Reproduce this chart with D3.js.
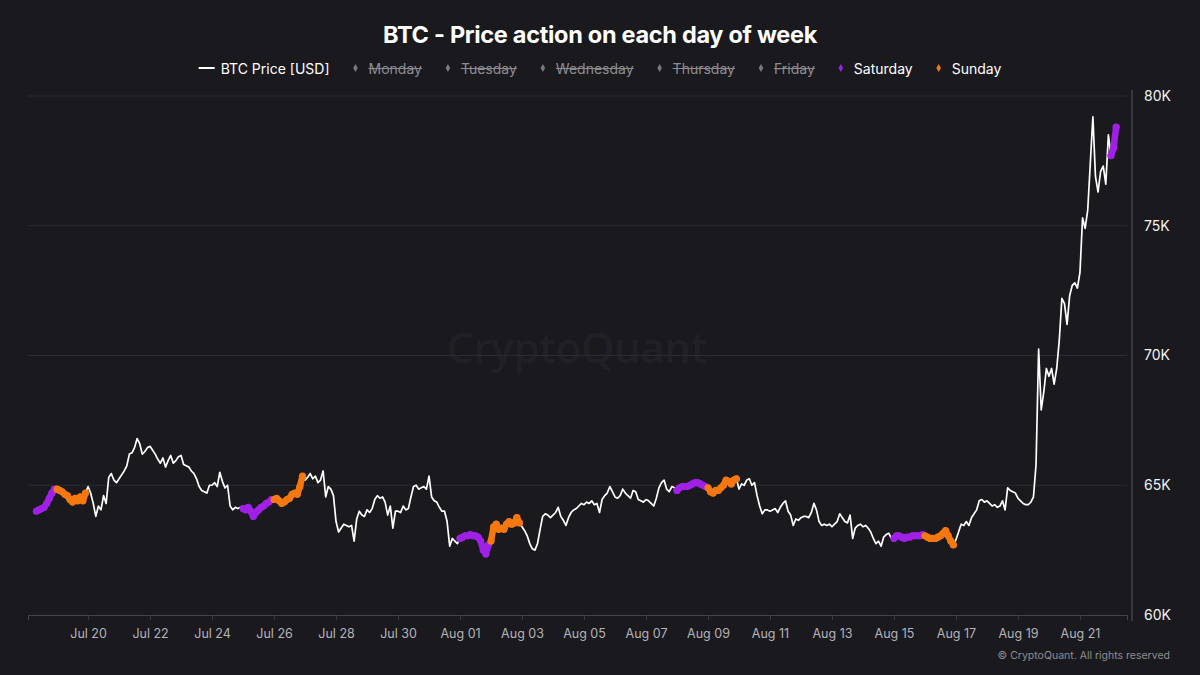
<!DOCTYPE html>
<html>
<head>
<meta charset="utf-8">
<script src="https://cdn.jsdelivr.net/npm/d3@7"></script>
<style>
  html, body { margin: 0; padding: 0; background: #1a191e; }
  svg { display: block; font-family: Inter, "Noto Sans", sans-serif; }
</style>
</head>
<body>
<svg id="chart" width="1200" height="675"></svg>
<script>
// ---------- data ----------
const chartTitle = "BTC - Price action on each day of week";
const seriesName = "BTC Price [USD]";
const dayNames = ["Monday", "Tuesday", "Wednesday", "Thursday", "Friday", "Saturday", "Sunday"];
const activeDays = ["Saturday", "Sunday"];
const dayColors = { Saturday: "#a020e6", Sunday: "#f5780f" };
const startTime = "2026-07-18 08:00";
const stepHours = 2;
// BTC price in thousands of USD, one value every 2 hours
const priceK = [
  64.0, 64.05, 64.1, 64.15, 64.3, 64.5, 64.7, 64.85,
  64.85, 64.8, 64.75, 64.65, 64.6, 64.45, 64.35, 64.5, 64.4, 64.55, 64.4, 64.7,
  64.95, 64.7, 64.3, 63.8, 64.2, 64.05, 64.6, 64.3, 65.3, 65.45, 65.2, 65.1,
  65.25, 65.4, 65.55, 65.75, 66.2, 66.25, 66.45, 66.8, 66.6, 66.2, 66.3, 66.45,
  66.5, 66.35, 66.2, 66.0, 65.85, 66.05, 65.7, 65.95, 66.15, 65.85, 65.95, 66.1,
  66.15, 65.8, 65.75, 65.7, 65.55, 65.45, 65.25, 64.95, 64.8, 64.75, 64.7, 65.0,
  65.0, 65.1, 64.95, 65.5, 65.15, 64.9, 65.0, 64.2, 64.05, 64.15, 64.1, 64.15,
  64.1, 64.05, 64.15, 64.0, 63.8, 63.95, 64.05, 64.15, 64.2, 64.3, 64.35, 64.45,
  64.45, 64.5, 64.4, 64.3, 64.35, 64.45, 64.5, 64.65, 64.7, 64.65, 64.95, 65.35,
  65.2, 65.3, 65.45, 65.25, 65.35, 65.1, 65.2, 65.55, 64.55, 64.95, 64.85, 64.6,
  63.6, 63.2, 63.35, 63.5, 63.45, 63.4, 63.45, 62.85, 63.7, 64.0, 63.85, 63.8,
  64.05, 63.95, 64.1, 64.45, 64.6, 64.5, 64.55, 64.35, 63.85, 64.2, 63.35, 64.0,
  64.0, 63.95, 64.2, 64.05, 64.1, 64.55, 64.95, 65.0, 64.85, 64.9, 64.95, 64.85,
  65.35, 64.55, 64.4, 64.35, 64.15, 64.0, 64.0, 63.6, 62.65, 62.95, 62.85, 62.75,
  62.95, 63.0, 63.05, 63.05, 63.1, 63.05, 63.05, 63.0, 62.85, 62.5, 62.35, 62.7,
  62.85, 63.4, 63.5, 63.3, 63.35, 63.3, 63.5, 63.6, 63.5, 63.55, 63.75, 63.55,
  63.4, 63.25, 63.05, 62.75, 62.55, 62.5, 62.75, 63.3, 63.8, 63.9, 63.85, 63.75,
  63.85, 63.95, 64.15, 63.8, 63.65, 63.45, 63.75, 63.95, 64.05, 64.1, 64.2, 64.3,
  64.25, 64.35, 64.3, 64.4, 64.25, 64.3, 63.95, 64.45, 64.6, 64.7, 64.95, 64.75,
  64.55, 64.5, 64.6, 64.85, 64.7, 64.6, 64.5, 64.8, 64.75, 64.45, 64.4, 64.35,
  64.45, 64.4, 64.3, 64.2, 64.5, 64.9, 65.1, 65.2, 64.85, 64.75, 64.95, 64.9,
  64.8, 64.9, 64.95, 64.95, 64.95, 65.0, 65.05, 65.1, 65.1, 65.05, 65.0, 64.95,
  64.9, 64.75, 64.7, 64.8, 64.8, 64.9, 65.0, 65.2, 65.15, 65.05, 65.2, 65.25,
  64.85, 65.05, 65.0, 65.2, 65.25, 65.0, 65.1, 64.6, 64.2, 63.9, 64.05, 64.05,
  64.0, 64.05, 64.1, 63.95, 64.15, 64.3, 64.4, 64.0, 63.85, 63.45, 63.7, 63.65,
  63.75, 63.8, 63.8, 63.75, 63.95, 64.3, 64.05, 63.6, 63.45, 63.5, 63.45, 63.5,
  63.4, 63.5, 63.6, 63.9, 63.75, 63.6, 63.55, 63.85, 62.95, 63.35, 63.45, 63.5,
  63.4, 63.45, 63.35, 63.2, 62.95, 62.75, 62.85, 62.65, 63.0, 63.1, 63.15, 62.95,
  62.95, 63.05, 63.05, 63.0, 62.95, 63.0, 63.0, 63.05, 63.05, 63.05, 63.05, 63.1,
  63.05, 63.0, 62.95, 62.95, 62.95, 63.0, 63.05, 63.15, 63.25, 63.05, 62.85, 62.7,
  62.9, 63.2, 63.5, 63.45, 63.6, 63.45, 63.75, 63.9, 64.05, 64.4, 64.45, 64.35,
  64.4, 64.3, 64.2, 64.25, 64.15, 64.2, 64.4, 64.05, 64.9, 64.8, 64.75, 64.7,
  64.5, 64.4, 64.3, 64.25, 64.25, 64.35, 64.55, 65.8, 70.25, 67.9, 68.6, 69.5,
  69.2, 69.5, 68.9, 69.5, 70.6, 72.2, 72.0, 71.2, 72.3, 72.7, 72.8, 72.6,
  73.2, 75.3, 74.9, 75.6, 77.4, 79.2, 76.9, 76.3, 77.1, 77.3, 76.6, 78.5,
  77.7, 78.0, 78.8
];
const xDomain = ["2026-07-18 01:30", "2026-08-22 12:25"];
const yDomain = [60, 80];
const yTicks = [60, 65, 70, 75, 80];
const xTickLabels = ["Jul 20", "Jul 22", "Jul 24", "Jul 26", "Jul 28", "Jul 30", "Aug 01", "Aug 03",
  "Aug 05", "Aug 07", "Aug 09", "Aug 11", "Aug 13", "Aug 15", "Aug 17", "Aug 19", "Aug 21"];
const watermark = "CryptoQuant";
const copyright = "© CryptoQuant. All rights reserved";

// ---------- build ----------
const parseTime = d3.timeParse("%Y-%m-%d %H:%M");
const parseTick = d3.timeParse("%b %d %Y");
const t0 = parseTime(startTime);
const data = priceK.map((v, i) => ({ date: d3.timeHour.offset(t0, i * stepHours), value: v }));
const dayIndex = d => (d.getDay() + 6) % 7; // Monday = 0
const dayOf = d => dayNames[dayIndex(d.date)];

const svg = d3.select("#chart");
const W = 1200, H = 675;
const plot = { left: 28, right: 1127, top: 96, bottom: 615 };

svg.append("rect").attr("width", W).attr("height", H).attr("fill", "#1a191e");

const x = d3.scaleTime().domain(xDomain.map(parseTime)).range([plot.left, plot.right]);
const y = d3.scaleLinear().domain(yDomain).range([plot.bottom, plot.top]);

// watermark
svg.append("text")
  .attr("x", 577).attr("y", 352)
  .attr("text-anchor", "middle").attr("dominant-baseline", "middle")
  .attr("font-family", "'Noto Sans', sans-serif")
  .attr("font-size", 42).attr("font-weight", 500)
  .attr("fill", "#ffffff").attr("fill-opacity", 0.05)
  .text(watermark);

// gridlines
svg.append("g")
  .selectAll("line").data(yTicks.filter(v => v !== 60)).join("line")
  .attr("x1", plot.left).attr("x2", plot.right)
  .attr("y1", d => y(d)).attr("y2", d => y(d))
  .attr("stroke", "#2c2b31").attr("stroke-width", 1);

// x axis
const tickDates = xTickLabels.map(s => parseTick(s + " 2026"));
const xAxis = d3.axisBottom(x).tickValues(tickDates).tickFormat(d3.timeFormat("%b %d")).tickSize(5).tickPadding(9);
const gx = svg.append("g").attr("transform", `translate(0,${plot.bottom})`).call(xAxis);
gx.select(".domain").attr("stroke", "#45444a");
gx.selectAll(".tick line").attr("stroke", "#3a393f");
gx.selectAll(".tick text").attr("fill", "#b4b3b8").attr("font-size", 12.5)
  .attr("font-family", "Inter, 'Noto Sans', sans-serif");

// y axis (right)
const yAxis = d3.axisRight(y).tickValues(yTicks).tickFormat(d => d + "K").tickSize(0).tickPadding(12);
const gy = svg.append("g").attr("transform", `translate(1132,0)`).call(yAxis);
gy.select(".domain").attr("stroke", "#55545a").attr("d", `M0,${plot.top - 6}V${plot.bottom + 6}`);
gy.selectAll(".tick text").attr("fill", "#f2f2f2").attr("font-size", 14)
  .attr("font-family", "Inter, 'Noto Sans', sans-serif");

// price line
const line = d3.line().x(d => x(d.date)).y(d => y(d.value));
svg.append("path").datum(data)
  .attr("d", line).attr("fill", "none")
  .attr("stroke", "#ffffff").attr("stroke-width", 1.7).attr("stroke-linejoin", "round");

// day-of-week markers: consecutive runs of an active day drawn as dense dot bands
const runs = [];
data.forEach(d => {
  const name = dayOf(d);
  if (!activeDays.includes(name)) return;
  const last = runs[runs.length - 1];
  if (last && last.name === name && d3.timeHour.count(last.pts[last.pts.length - 1].date, d.date) <= stepHours) {
    last.pts.push(d);
  } else {
    runs.push({ name, pts: [d] });
  }
});
const marks = svg.append("g");
marks.selectAll("path").data(runs).join("path")
  .attr("d", r => line(r.pts)).attr("fill", "none")
  .attr("stroke", r => dayColors[r.name]).attr("stroke-width", 6.5)
  .attr("stroke-linecap", "round").attr("stroke-linejoin", "round");
marks.selectAll("circle").data(runs.flatMap(r => r.pts)).join("circle")
  .attr("cx", d => x(d.date)).attr("cy", d => y(d.value)).attr("r", 3.6)
  .attr("fill", d => dayColors[dayOf(d)]);

// title
svg.append("text")
  .attr("x", 600).attr("y", 43).attr("text-anchor", "middle")
  .attr("font-family", "Inter, 'Noto Sans', sans-serif")
  .attr("font-size", 23.5).attr("font-weight", 700).attr("fill", "#ffffff")
  .attr("letter-spacing", -0.3)
  .text(chartTitle);

// legend
const legend = svg.append("g");
const ly = 68;
const gap = 23;
let cx = 0;
const items = [{ name: seriesName, type: "line" }].concat(dayNames.map(n => ({ name: n, type: "day" })));
items.forEach(it => {
  const g = legend.append("g");
  const active = it.type === "line" || activeDays.includes(it.name);
  if (it.type === "line") {
    g.append("line").attr("x1", cx).attr("x2", cx + 16).attr("y1", ly).attr("y2", ly)
      .attr("stroke", "#fff").attr("stroke-width", 2);
    cx += 22;
  } else {
    g.append("path").attr("d", d3.symbol(d3.symbolDiamond, 18)())
      .attr("transform", `translate(${cx + 3},${ly})`)
      .attr("fill", active ? dayColors[it.name] : "#7a797f");
    cx += 16;
  }
  const t = g.append("text").attr("x", cx).attr("y", ly).attr("dominant-baseline", "central")
    .attr("font-size", 14).attr("fill", active ? "#ffffff" : "#8c8b90")
    .attr("font-family", "Inter, 'Noto Sans', sans-serif")
    .text(it.name);
  const w = t.node().getComputedTextLength();
  if (!active) {
    g.append("line").attr("x1", cx).attr("x2", cx + w).attr("y1", ly + 0.5).attr("y2", ly + 0.5)
      .attr("stroke", "#8c8b90").attr("stroke-width", 1.2);
  }
  cx += w + gap;
});
const totalW = cx - gap;
legend.attr("transform", `translate(${600 - totalW / 2},0)`);

// copyright
svg.append("text")
  .attr("x", 1170).attr("y", 659).attr("text-anchor", "end")
  .attr("font-family", "Inter, 'Noto Sans', sans-serif")
  .attr("font-size", 10.5).attr("fill", "#8e8d92")
  .text(copyright);
</script>
</body>
</html>
